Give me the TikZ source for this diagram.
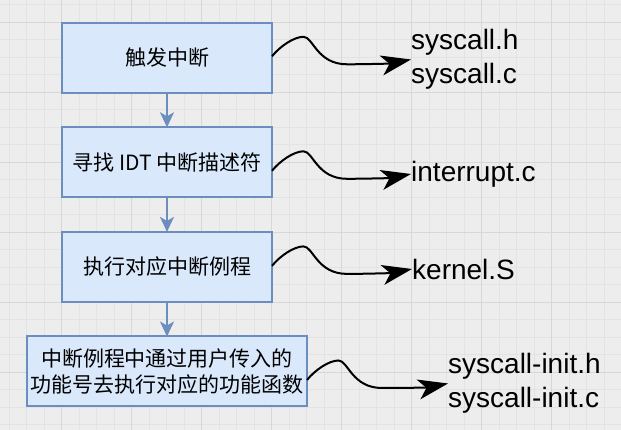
\documentclass[tikz,border=0pt]{standalone}
\usepackage{fontspec}
\setmainfont{Liberation Sans}
\newfontfamily\cjk{Noto Sans CJK SC}
\usepackage{tikz}
\usetikzlibrary{positioning,arrows.meta}
\definecolor{boxfill}{HTML}{DAE8FC}
\definecolor{boxline}{HTML}{6C8EBF}
\definecolor{paper}{HTML}{EDEDED}
\definecolor{gridminor}{HTML}{E3E3E3}
\definecolor{gridmajor}{HTML}{D7D7D7}

\begin{document}
\begin{tikzpicture}[node distance=34.6pt, x=1pt, y=1pt]
	% Define styles for boxes
	\tikzset{
		box/.style={
			rectangle,
			draw=boxline,
			fill=boxfill,
			line width=2pt,
			minimum width=210pt,
			minimum height=70pt,
			outer sep=0pt,
			inner sep=2pt,
			align=center,
			font=\cjk\fontsize{21}{26.5}\selectfont
		},
		widebox/.style={
			box,
			minimum width=280pt
		},
		file/.style={
			anchor=west,
			inner sep=0pt,
			align=left,
			font=\fontsize{28}{34}\selectfont
		},
		flow/.style={draw=boxline, line width=2pt, -{Stealth[length=15pt,width=14pt,inset=4pt]}},
		curly/.style={line width=2pt, -{Stealth[length=30pt,width=20pt,inset=8pt]}},
		minorline/.style={gridminor, line width=1pt},
		majorline/.style={gridmajor, line width=1pt}
	}
	
	% Background grid
	\useasboundingbox (0,0) rectangle (621,430);
	\fill[paper] (0,0) rectangle (621,430);
	\foreach \gx in {9,26.5,...,621} \draw[minorline] (\gx,0) -- (\gx,430);
	\foreach \gy in {5,22.5,...,430} \draw[minorline] (0,\gy) -- (621,\gy);
	\foreach \gx in {61.5,131.5,...,621} \draw[majorline] (\gx,0) -- (\gx,430);
	\foreach \gy in {57.5,127.5,...,430} \draw[majorline] (0,\gy) -- (621,\gy);
	
	% Nodes for the interrupt steps
	\node[box] (triggerInt) at (167,372.3) {触发中断};
	\node[box, below=of triggerInt] (findIdt) {寻找 IDT 中断描述符};
	\node[box, below=of findIdt] (runHandler) {执行对应中断例程};
	\node[widebox, below=of runHandler] (callFunc) {中断例程中通过用户传入的\\功能号去执行对应的功能函数};
	
	% Arrows between the steps
	\draw[flow] (triggerInt) -- (findIdt);
	\draw[flow] (findIdt) -- (runHandler);
	\draw[flow] (runHandler) -- (callFunc);
	
	% Source files
	\node[file] (fileSyscall) at (411,370.5) {syscall.h\\syscall.c};
	\node[file] (fileInterrupt) at (411,256) {interrupt.c};
	\node[file] (fileKernel) at (412,161) {kernel.S};
	\node[file] (fileInit) at (448,46.5) {syscall-init.h\\syscall-init.c};
	
	% Curly arrows from the steps to the files
	\draw[curly] ([yshift=1.4pt]triggerInt.east) .. controls +(8,10) and +(-9.5,0) .. ++(31.5,19.5) .. controls +(9.5,0) and +(-30,0) .. ++(43.5,-27.5) .. controls +(20,0) and +(-20,-4) .. (fileSyscall.west);
	\draw[curly] ([yshift=-8.5pt]findIdt.east) .. controls +(8,10) and +(-9.5,0) .. ++(31.5,19.5) .. controls +(9.5,0) and +(-30,0) .. ++(43.5,-27.5) .. controls +(20,0) and +(-20,-4) .. (fileInterrupt.west);
	\draw[curly] ([yshift=1pt]runHandler.east) .. controls +(8,10) and +(-9.5,0) .. ++(31.5,19.5) .. controls +(9.5,0) and +(-30,0) .. ++(43.5,-27.5) .. controls +(20,0) and +(-20,-4) .. (fileKernel.west);
	\draw[curly] ([yshift=-8.5pt]callFunc.east) .. controls +(8,10) and +(-9.5,0) .. ++(31.5,19.5) .. controls +(9.5,0) and +(-30,0) .. ++(43.5,-27.5) .. controls +(20,0) and +(-20,-4) .. (fileInit.west);
\end{tikzpicture}
\end{document}
